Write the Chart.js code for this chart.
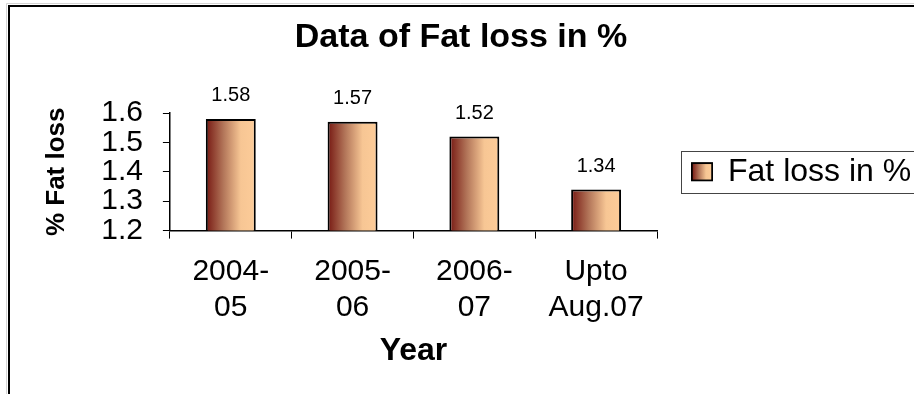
<!DOCTYPE html>
<html>
<head>
<meta charset="utf-8">
<title>Data of Fat loss in %</title>
<script src="https://cdn.jsdelivr.net/npm/chart.js@4/dist/chart.umd.min.js"></script>
<style>
  body { margin: 0; background: #fff; }
  #wrap { width: 914px; height: 394px; }
</style>
</head>
<body>
<div id="wrap"><canvas id="fatLoss" width="914" height="394"></canvas></div>
<script>
const years = [['2004-', '05'], ['2005-', '06'], ['2006-', '07'], ['Upto', 'Aug.07']]
const fatLoss = [1.58, 1.57, 1.52, 1.34]
const yTicks = [1.2, 1.3, 1.4, 1.5, 1.6]

const FONT = "'Liberation Sans', Arial, Helvetica, sans-serif"
const BAR_PCT = 0.41

Chart.defaults.font.family = FONT
Chart.defaults.color = '#000'

// dark maroon on the left fading into tan on the right
const shade = (c, x0, x1) => {
    const g = c.createLinearGradient(x0, 0, x1, 0)
    g.addColorStop(0, '#761812')
    g.addColorStop(0.35, '#b27559')
    g.addColorStop(0.7, '#f7c694')
    g.addColorStop(1, '#fdcc99')
    return g
}

const barFill = (ctx) => {
    const chart = ctx.chart
    const x = chart.scales.x
    if (!x || ctx.dataIndex === undefined) return '#c98f6c'
    const half = x.width / fatLoss.length * BAR_PCT / 2
    const cx = x.getPixelForValue(ctx.dataIndex)
    if (!isFinite(half) || !isFinite(cx)) return '#c98f6c'
    return shade(chart.ctx, cx - half, cx + half)
}

const decorations = {
    id: 'decorations',
    beforeDraw(chart) {
        const c = chart.ctx
        c.save()
        c.fillStyle = '#fff'
        c.fillRect(0, 0, chart.width, chart.height)
        // outer frame, top and left edges only
        c.strokeStyle = '#d4d4d4'
        c.lineWidth = 1
        c.beginPath()
        c.moveTo(6.5, chart.height); c.lineTo(6.5, 3.5); c.lineTo(chart.width, 3.5)
        c.stroke()
        c.strokeStyle = '#000'
        c.lineWidth = 2
        c.beginPath()
        c.moveTo(9, chart.height); c.lineTo(9, 6); c.lineTo(chart.width, 6)
        c.stroke()
        c.restore()
    },
    afterDatasetsDraw(chart) {
        const c = chart.ctx
        const meta = chart.getDatasetMeta(0)
        c.save()
        c.font = `20px ${FONT}`
        c.fillStyle = '#000'
        c.textAlign = 'center'
        c.textBaseline = 'middle'
        meta.data.forEach((bar, i) => {
            c.fillText(fatLoss[i].toFixed(2), bar.x, bar.y - 23)
        })
        c.restore()
    },
    afterDraw(chart) {
        const hb = chart.legend && chart.legend.legendHitBoxes[0]
        if (!hb) return
        const c = chart.ctx
        const mid = hb.top + hb.height / 2
        c.save()
        c.strokeStyle = '#444'
        c.lineWidth = 1
        c.strokeRect(hb.left - 10.5, Math.round(mid - 21) + 0.5, chart.width, 42)
        // gradient swatch
        const bx = hb.left, by = mid - 8.5
        c.fillStyle = shade(c, bx, bx + 20)
        c.fillRect(bx, by, 20, 17)
        c.strokeStyle = '#000'
        c.lineWidth = 1.5
        c.strokeRect(bx, by, 20, 17)
        c.restore()
    }
}

const ctx = document.getElementById('fatLoss').getContext('2d')
const fatChart = new Chart(ctx, {
    type: 'bar',
    data: {
        labels: years,
        datasets: [{
            label: 'Fat loss in %',
            data: fatLoss,
            backgroundColor: barFill,
            borderColor: '#000',
            borderWidth: 2,
            borderSkipped: false,
            barPercentage: BAR_PCT,
            categoryPercentage: 1
        }]
    },
    options: {
        responsive: false,
        animation: false,
        layout: { padding: { top: 0, left: 12, right: 4, bottom: 20 } },
        plugins: {
            title: {
                display: true,
                text: 'Data of Fat loss in %',
                font: { size: 34, weight: 'bold' },
                color: '#000',
                padding: { top: 17, bottom: 55.2 }
            },
            legend: {
                position: 'right',
                fullSize: false,
                align: 'center',
                maxWidth: 253,
                labels: {
                    boxWidth: 20,
                    boxHeight: 17,
                    padding: 35,
                    font: { size: 32 },
                    color: '#000'
                }
            },
            tooltip: { enabled: false }
        },
        scales: {
            x: {
                grid: {
                    offset: true,
                    drawOnChartArea: false,
                    tickLength: 8,
                    color: '#000'
                },
                border: { color: '#000', width: 1.5 },
                ticks: {
                    font: { size: 30 },
                    color: '#000',
                    padding: 15,
                    maxRotation: 0,
                    autoSkip: false
                },
                title: {
                    display: true,
                    text: 'Year',
                    font: { size: 32, weight: 'bold' },
                    color: '#000',
                    padding: { top: -9, bottom: 4 }
                }
            },
            y: {
                min: yTicks[0],
                max: yTicks[yTicks.length - 1],
                afterBuildTicks: axis => { axis.ticks = yTicks.map(v => ({ value: v })) },
                grid: {
                    drawOnChartArea: false,
                    tickLength: 7,
                    color: '#000'
                },
                border: { color: '#000', width: 1.5 },
                ticks: {
                    font: { size: 30 },
                    color: '#000',
                    padding: 20,
                    autoSkip: false,
                    callback: v => v.toFixed(1)
                },
                title: {
                    display: true,
                    text: '% Fat loss',
                    font: { size: 26, weight: 'bold' },
                    color: '#000',
                    padding: { top: 29, bottom: 9 }
                }
            }
        }
    },
    plugins: [decorations]
})
</script>
</body>
</html>
